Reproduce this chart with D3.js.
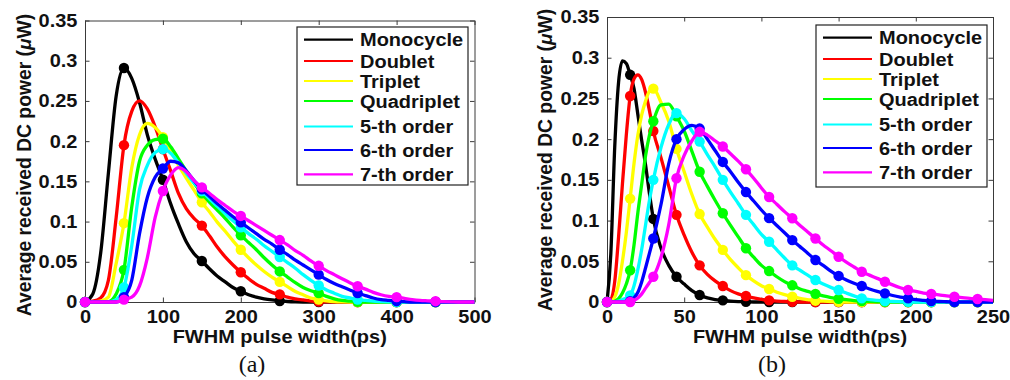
<!DOCTYPE html>
<html><head><meta charset="utf-8">
<script src="https://cdn.jsdelivr.net/npm/d3@7"></script>
<style>body{margin:0;background:#fff}svg{display:block}</style>
</head><body>
<svg id="chart" width="1010" height="380"></svg>
<script>
// ---------------- data ----------------
const seriesNames = ["Monocycle","Doublet","Triplet","Quadriplet","5-th order","6-th order","7-th order"];
const seriesColors = ["#000000","#ff0000","#ffff00","#00ff00","#00ffff","#0000ff","#ff00ff"];

const yTicks = [0,0.05,0.1,0.15,0.2,0.25,0.3,0.35];
const yTickLabels = ["0","0.05","0.1","0.15","0.2","0.25","0.3","0.35"];
const xTicksLeft = [0,100,200,300,400,500];
const xTicksRight = [0,50,100,150,200,250];
const markerXLeft = [0,50,100,150,200,250,300,350,400,450];
const markerXRight = [0,15,30,45,60,75,90,105,120,135,150,165,180,195,210,225,240];

// panel (a): FWHM 0..500 ps
const xLeft = [0,10,20,30,40,50,60,70,80,90,100,110,120,130,140,150,160,170,180,190,200,210,220,230,240,250,260,270,280,290,300,310,320,330,340,350,360,370,380,390,400,410,420,430,440,450,460,470,480,490,500];
const leftMonocycle = [0,0.01,0.06,0.16,0.256,0.291,0.278,0.248,0.208,0.178,0.152,0.122,0.097,0.075,0.06,0.051,0.041,0.032,0.025,0.018,0.0134,0.009,0.006,0.004,0.0025,0.0013,0.0006,0.0002,0,0,0,0,0,0,0,0,0,0,0,0,0,0,0,0,0,0,0,0,0,0,0];
const leftDoublet = [0,0.001,0.005,0.027,0.105,0.195,0.237,0.25,0.24,0.218,0.19,0.163,0.135,0.116,0.104,0.095,0.082,0.068,0.056,0.046,0.037,0.029,0.022,0.017,0.012,0.0095,0.006,0.004,0.0025,0.0012,0.0005,0.0002,0,0,0,0,0,0,0,0,0,0,0,0,0,0,0,0,0,0,0];
const leftTriplet = [0,0,0.001,0.006,0.048,0.098,0.167,0.208,0.222,0.217,0.205,0.188,0.17,0.154,0.139,0.124,0.112,0.099,0.088,0.076,0.065,0.055,0.046,0.038,0.031,0.025,0.019,0.013,0.009,0.005,0.003,0.0015,0.0006,0.0002,0,0,0,0,0,0,0,0,0,0,0,0,0,0,0,0,0];
const leftQuadriplet = [0,0,0,0.0005,0.01,0.04,0.118,0.175,0.195,0.202,0.203,0.193,0.178,0.163,0.148,0.135,0.124,0.114,0.104,0.093,0.083,0.074,0.065,0.055,0.046,0.038,0.031,0.024,0.018,0.014,0.011,0.007,0.004,0.002,0.001,0.0003,0,0,0,0,0,0,0,0,0,0,0,0,0,0,0];
const leftFifth = [0,0,0,0,0.003,0.018,0.07,0.14,0.17,0.186,0.19,0.185,0.173,0.16,0.148,0.138,0.128,0.119,0.11,0.101,0.093,0.085,0.078,0.07,0.063,0.056,0.049,0.042,0.034,0.027,0.0205,0.015,0.011,0.007,0.005,0.003,0.002,0.001,0.0005,0.0002,0,0,0,0,0,0,0,0,0,0,0];
const leftSixth = [0,0,0,0,0,0.006,0.027,0.085,0.13,0.155,0.166,0.175,0.173,0.163,0.151,0.14,0.131,0.122,0.114,0.106,0.099,0.092,0.085,0.078,0.072,0.065,0.059,0.052,0.046,0.04,0.034,0.028,0.023,0.019,0.015,0.011,0.008,0.005,0.003,0.002,0.001,0.0004,0,0,0,0,0,0,0,0,0];
const leftSeventh = [0,0,0,0,0,0.003,0.006,0.02,0.055,0.105,0.138,0.158,0.167,0.162,0.151,0.1425,0.135,0.127,0.12,0.113,0.107,0.101,0.095,0.089,0.083,0.077,0.071,0.064,0.058,0.051,0.045,0.039,0.034,0.029,0.024,0.0196,0.016,0.012,0.009,0.007,0.006,0.0045,0.003,0.002,0.0015,0.001,0.0005,0.0002,0,0,0];

// panel (b): FWHM 0..250 ps
const xRight = [0,2.5,5,7.5,10,12.5,15,17.5,20,22.5,25,27.5,30,35,40,45,50,55,60,65,70,75,80,85,90,95,100,105,110,115,120,125,130,135,140,145,150,155,160,165,170,175,180,185,190,195,200,205,210,215,220,225,230,235,240,245,250];
const rightMonocycle = [0,0.06,0.19,0.27,0.296,0.293,0.279,0.262,0.23,0.198,0.168,0.133,0.102,0.066,0.045,0.031,0.022,0.014,0.0086,0.005,0.003,0.002,0.001,0.0005,0.0003,0,0,0,0,0,0,0,0,0,0,0,0,0,0,0,0,0,0,0,0,0,0,0,0,0,0,0,0,0,0,0,0];
const rightDoublet = [0,0.003,0.025,0.08,0.145,0.205,0.253,0.274,0.279,0.273,0.257,0.235,0.21,0.177,0.142,0.107,0.082,0.061,0.045,0.034,0.026,0.0196,0.014,0.01,0.0074,0.005,0.0032,0.002,0.0012,0.0006,0.0003,0,0,0,0,0,0,0,0,0,0,0,0,0,0,0,0,0,0,0,0,0,0,0,0,0,0];
const rightTriplet = [0,0.001,0.006,0.022,0.05,0.085,0.127,0.17,0.205,0.23,0.247,0.259,0.262,0.245,0.222,0.188,0.16,0.132,0.108,0.092,0.077,0.064,0.052,0.042,0.033,0.026,0.02,0.016,0.012,0.009,0.0065,0.0045,0.003,0.0016,0.001,0.0005,0.0002,0,0,0,0,0,0,0,0,0,0,0,0,0,0,0,0,0,0,0,0];
const rightQuadriplet = [0,0,0.001,0.004,0.011,0.022,0.039,0.07,0.11,0.145,0.18,0.205,0.222,0.242,0.243,0.228,0.21,0.185,0.16,0.142,0.125,0.109,0.094,0.08,0.066,0.055,0.045,0.038,0.031,0.025,0.0205,0.016,0.013,0.01,0.0075,0.0055,0.004,0.0028,0.0018,0.0012,0.0007,0.0003,0.0001,0,0,0,0,0,0,0,0,0,0,0,0,0,0];
const rightFifth = [0,0,0,0.001,0.003,0.005,0.008,0.02,0.04,0.065,0.095,0.125,0.15,0.19,0.218,0.232,0.225,0.21,0.197,0.181,0.166,0.15,0.135,0.121,0.107,0.095,0.083,0.074,0.064,0.054,0.045,0.039,0.033,0.027,0.022,0.018,0.0147,0.011,0.0075,0.0045,0.003,0.002,0.0012,0.0006,0.0003,0.0001,0,0,0,0,0,0,0,0,0,0,0];
const rightSixth = [0,0,0,0,0,0,0.001,0.005,0.012,0.025,0.042,0.06,0.078,0.12,0.17,0.2,0.212,0.217,0.213,0.2,0.186,0.172,0.16,0.147,0.135,0.124,0.113,0.103,0.094,0.085,0.076,0.068,0.06,0.0516,0.045,0.038,0.032,0.027,0.023,0.0196,0.016,0.013,0.0106,0.008,0.006,0.0045,0.003,0.002,0.0012,0.0006,0.0003,0,0,0,0,0,0];
const rightSeventh = [0,0,0,0,0,0,0,0.002,0.005,0.01,0.017,0.024,0.031,0.055,0.095,0.152,0.18,0.198,0.209,0.205,0.198,0.191,0.182,0.173,0.163,0.152,0.14,0.129,0.12,0.111,0.1028,0.094,0.086,0.078,0.07,0.063,0.0556,0.049,0.043,0.0372,0.033,0.029,0.0249,0.021,0.0175,0.0147,0.013,0.011,0.0098,0.0087,0.0075,0.0065,0.0055,0.0045,0.0037,0.0028,0.002];

const leftSeries = [leftMonocycle,leftDoublet,leftTriplet,leftQuadriplet,leftFifth,leftSixth,leftSeventh];
const rightSeries = [rightMonocycle,rightDoublet,rightTriplet,rightQuadriplet,rightFifth,rightSixth,rightSeventh];
leftSeries.forEach((s,i)=>{ if (s.length!==xLeft.length) console.error("left len",i,s.length); });
rightSeries.forEach((s,i)=>{ if (s.length!==xRight.length) console.error("right len",i,s.length); });

// ---------------- drawing ----------------
const svg = d3.select("#chart");
svg.append("rect").attr("width",1010).attr("height",380).attr("fill","#fff");
const FONT = "'Liberation Sans', Arial, Helvetica, sans-serif";
const STRETCH = "scale(1.08,1)";
const AXIS_COLOR = "#3a3a3a";
const legendRowOffsets = [12.7, 34, 54, 74, 99.5, 123, 147.3];

function drawPanel(cfg) {
  const x = d3.scaleLinear().domain(cfg.xDomain).range([cfg.left, cfg.right]);
  const y = d3.scaleLinear().domain([0, 0.35]).range([cfg.bottom, cfg.top]);
  const g = svg.append("g");

  const styleAxis = sel => {
    sel.select(".domain").attr("stroke", AXIS_COLOR).attr("stroke-width", 1);
    sel.selectAll(".tick line").attr("stroke", AXIS_COLOR).attr("stroke-width", 1);
    sel.selectAll("text").attr("font-family", FONT).attr("font-weight", "bold")
      .attr("font-size", 18.5).attr("fill", "#111");
  };
  g.append("g").attr("transform", `translate(0,${cfg.bottom})`)
    .call(d3.axisBottom(x).tickValues(cfg.xTicks).tickFormat(d3.format("d"))
      .tickSizeInner(-4.5).tickSizeOuter(0).tickPadding(7.5))
    .call(styleAxis)
    .call(s => s.selectAll("text").attr("transform", STRETCH));
  g.append("g").attr("transform", `translate(0,${cfg.top})`)
    .call(d3.axisTop(x).tickValues(cfg.xTicks).tickFormat("")
      .tickSizeInner(-4.5).tickSizeOuter(0))
    .call(styleAxis);
  g.append("g").attr("transform", `translate(${cfg.left},0)`)
    .call(d3.axisLeft(y).tickValues(yTicks).tickFormat((d,i)=>yTickLabels[i])
      .tickSizeInner(-4.5).tickSizeOuter(0).tickPadding(7))
    .call(styleAxis)
    .call(s => s.selectAll("text").attr("transform", STRETCH));
  g.append("g").attr("transform", `translate(${cfg.right},0)`)
    .call(d3.axisRight(y).tickValues(yTicks).tickFormat("")
      .tickSizeInner(-4.5).tickSizeOuter(0))
    .call(styleAxis);

  const line = d3.line().x(d => x(d[0])).y(d => y(d[1])).curve(d3.curveMonotoneX);
  cfg.series.forEach((vals, i) => {
    const pts = cfg.xs.map((xv, j) => [xv, vals[j]]);
    g.append("path").datum(pts).attr("d", line)
      .attr("fill", "none").attr("stroke", seriesColors[i])
      .attr("stroke-width", 3.3).attr("stroke-linejoin", "round");
    const mk = pts.filter(p => cfg.markerX.includes(p[0]));
    g.selectAll(null).data(mk).enter().append("circle")
      .attr("cx", d => x(d[0])).attr("cy", d => y(d[1])).attr("r", 5.2)
      .attr("fill", seriesColors[i]);
  });

  const lb = cfg.legend;
  const lg = g.append("g");
  lg.append("rect").attr("x", lb.x).attr("y", lb.y).attr("width", lb.w).attr("height", lb.h)
    .attr("fill", "#fff").attr("stroke", "#222").attr("stroke-width", 1.2);
  seriesNames.forEach((name, i) => {
    const ry = lb.y + legendRowOffsets[i];
    lg.append("line").attr("x1", lb.x + 7).attr("x2", lb.x + 56)
      .attr("y1", ry).attr("y2", ry).attr("stroke", seriesColors[i]).attr("stroke-width", 2.2);
    lg.append("text").attr("transform", `translate(${lb.x + 63},${ry + 6.6}) ${STRETCH}`)
      .attr("font-family", FONT).attr("font-weight", "bold").attr("font-size", 18.5)
      .attr("fill", "#111").text(name);
  });

  g.append("text").attr("transform", `translate(${(cfg.left + cfg.right) / 2},343) ${STRETCH}`)
    .attr("text-anchor", "middle").attr("font-family", FONT).attr("font-weight", "bold")
    .attr("font-size", 18.5).attr("fill", "#111").text("FWHM pulse width(ps)");
  const yl = g.append("text")
    .attr("transform", `translate(${cfg.yLabelX},${cfg.yLabelY}) rotate(-90)`)
    .attr("text-anchor", "middle").attr("dominant-baseline", "central")
    .attr("font-family", FONT).attr("font-weight", "bold").attr("font-size", 19.3).attr("fill", "#111");
  yl.append("tspan").text("Average received DC power (");
  yl.append("tspan").attr("font-style", "italic").text("μ");
  yl.append("tspan").text("W)");

  g.append("text").attr("x", cfg.tagX).attr("y", 372).attr("text-anchor", "middle")
    .attr("font-family", "'Liberation Serif', 'Times New Roman', serif").attr("font-size", 24)
    .attr("fill", "#111").text(cfg.tag);
}

drawPanel({
  xDomain: [0, 500], xTicks: xTicksLeft, xs: xLeft, series: leftSeries, markerX: markerXLeft,
  left: 85, right: 474.5, top: 20.5, bottom: 302,
  legend: { x: 297, y: 27, w: 171, h: 158 },
  yLabelX: 24, yLabelY: 165, tag: "(a)", tagX: 252
});
drawPanel({
  xDomain: [0, 250], xTicks: xTicksRight, xs: xRight, series: rightSeries, markerX: markerXRight,
  left: 607, right: 993, top: 17, bottom: 302,
  legend: { x: 816, y: 25, w: 171, h: 162 },
  yLabelX: 545, yLabelY: 160, tag: "(b)", tagX: 772
});
</script>
</body></html>
